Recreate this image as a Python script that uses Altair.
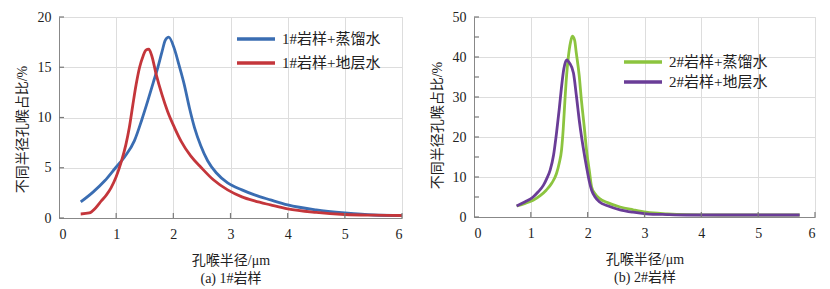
import altair as alt
import pandas as pd

# Panel (a): 1# sample
a_blue_x = [0.38, 0.6, 0.8, 0.99, 1.15, 1.32, 1.45, 1.55, 1.65, 1.73, 1.80, 1.86, 1.92, 2.02, 2.10, 2.19, 2.28, 2.37, 2.48, 2.60, 2.75, 2.95, 3.2, 3.42, 3.7, 4.0, 4.5, 5.0, 5.5, 6.0]
a_blue_y = [1.6, 2.6, 3.7, 5.0, 6.1, 7.7, 9.8, 11.6, 13.5, 15.0, 16.5, 17.7, 18.0, 16.8, 15.2, 13.3, 11.0, 9.0, 7.2, 5.7, 4.5, 3.5, 2.8, 2.3, 1.8, 1.3, 0.8, 0.5, 0.3, 0.25]
a_red_x = [0.38, 0.53, 0.64, 0.74, 0.83, 0.91, 1.00, 1.09, 1.17, 1.23, 1.29, 1.35, 1.41, 1.47, 1.52, 1.57, 1.62, 1.70, 1.80, 1.90, 2.02, 2.14, 2.30, 2.49, 2.70, 2.95, 3.2, 3.42, 3.7, 4.0, 4.5, 5.0, 5.5, 6.0]
a_red_y = [0.4, 0.5, 1.0, 1.7, 2.3, 3.0, 4.1, 5.6, 7.3, 9.0, 11.2, 13.3, 15.0, 16.1, 16.7, 16.8, 16.2, 14.3, 12.3, 10.6, 9.0, 7.6, 6.2, 5.0, 3.8, 2.8, 2.1, 1.7, 1.3, 0.9, 0.55, 0.35, 0.28, 0.25]

# Panel (b): 2# sample
b_green_x = [0.75, 0.9, 1.04, 1.17, 1.27, 1.37, 1.45, 1.50, 1.54, 1.57, 1.60, 1.63, 1.66, 1.70, 1.73, 1.77, 1.80, 1.85, 1.89, 1.94, 1.98, 2.03, 2.07, 2.13, 2.21, 2.35, 2.57, 2.80, 3.03, 3.4, 3.74, 4.3, 4.91, 5.73]
b_green_y = [2.75, 3.4, 4.2, 5.4, 6.7, 8.5, 10.8, 13.5, 16.7, 22.0, 29.2, 35.5, 40.0, 43.8, 45.2, 44.2, 41.0, 35.5, 29.2, 22.5, 16.7, 11.5, 7.5, 5.8, 4.6, 3.6, 2.5, 1.8, 1.2, 0.8, 0.6, 0.5, 0.5, 0.5]
b_purple_x = [0.75, 0.9, 1.04, 1.13, 1.22, 1.28, 1.34, 1.40, 1.45, 1.50, 1.54, 1.58, 1.63, 1.68, 1.75, 1.80, 1.86, 1.92, 1.98, 2.03, 2.07, 2.13, 2.21, 2.35, 2.57, 2.80, 3.03, 3.4, 3.74, 4.3, 4.91, 5.73]
b_purple_y = [2.75, 3.8, 5.0, 6.3, 7.9, 9.6, 11.7, 15.5, 20.8, 27.0, 32.5, 37.0, 39.3, 38.5, 36.0, 30.5, 23.3, 17.5, 12.5, 8.8, 6.7, 5.0, 3.75, 2.8, 1.8, 1.2, 0.8, 0.6, 0.5, 0.5, 0.5, 0.5]

a_series = ["1#岩样+蒸馏水", "1#岩样+地层水"]
b_series = ["2#岩样+蒸馏水", "2#岩样+地层水"]
a_colors = ["#3a6db2", "#c4363b"]
b_colors = ["#8cc43f", "#6a3d97"]

a_yticks = [0, 5, 10, 15, 20]
b_yticks = [0, 5, 10, 15, 20, 25, 30, 35, 40, 45, 50]
b_ylabels = [0, 10, 20, 30, 40, 50]
xticks = [0, 1, 2, 3, 4, 5, 6]

FONT = "'Liberation Serif', 'Times New Roman', 'Noto Sans CJK SC', serif"
AXIS_COLOR = "#7a7a7a"
TEXT_COLOR = "#222222"


def make_df(xs_list, ys_list, names):
    rows = []
    for xs, ys, n in zip(xs_list, ys_list, names):
        for i, (x, y) in enumerate(zip(xs, ys)):
            rows.append({"x": x, "y": y, "s": n, "o": i})
    return pd.DataFrame(rows)


def panel(df, names, colors, ymax, yticks, ylabels, caption, w, h, legx, legy, cliph, rowpad, ytitley):
    xscale = alt.Scale(domain=[0, 6], nice=False)
    yscale = alt.Scale(domain=[0, ymax], nice=False)
    xaxis = alt.Axis(values=xticks, format="d", ticks=False, labelPadding=9,
                     labelFont=FONT, labelFontSize=14, labelColor=TEXT_COLOR,
                     labelOverlap=False,
                     title=["孔喉半径/μm", caption], titlePadding=12,
                     titleFont=FONT, titleColor=TEXT_COLOR,
                     titleFontWeight="normal", titleFontSize=14,
                     titleLineHeight=18)
    yaxis = alt.Axis(values=ylabels, format="d", ticks=False, labelPadding=8,
                     labelFont=FONT, labelFontSize=14, labelColor=TEXT_COLOR,
                     labelOverlap=False,
                     title="不同半径孔喉占比/%", titlePadding=8, titleY=ytitley,
                     titleFont=FONT, titleColor=TEXT_COLOR,
                     titleFontWeight="normal", titleFontSize=14)
    lines = alt.Chart(df).mark_line(strokeWidth=2.8, interpolate="monotone").encode(
        x=alt.X("x:Q", scale=xscale, axis=xaxis),
        y=alt.Y("y:Q", scale=yscale, axis=yaxis),
        color=alt.Color("s:N", sort=names,
                        scale=alt.Scale(domain=names, range=colors),
                        legend=alt.Legend(title=None, orient="none", legendX=legx, legendY=legy,
                                          symbolType="stroke", symbolSize=1444,
                                          symbolStrokeWidth=3.5, labelFontSize=15,
                                          labelFont=FONT, labelColor=TEXT_COLOR,
                                          clipHeight=cliph, rowPadding=rowpad, labelOffset=5)),
        order="o:O",
    )
    ydf = pd.DataFrame({"t": yticks})
    ytk = alt.Chart(ydf).mark_rule(color=AXIS_COLOR, strokeWidth=1.2).encode(
        y=alt.Y("t:Q", scale=yscale, axis=yaxis), x=alt.value(0), x2=alt.value(5))
    xdf = pd.DataFrame({"t": xticks[1:]})
    xtk = alt.Chart(xdf).mark_rule(color=AXIS_COLOR, strokeWidth=1.2).encode(
        x=alt.X("t:Q", scale=xscale, axis=xaxis), y=alt.value(h), y2=alt.value(h - 5))
    return alt.layer(lines, ytk, xtk).properties(width=w, height=h)


dfa = make_df([a_blue_x, a_red_x], [a_blue_y, a_red_y], a_series)
dfb = make_df([b_green_x, b_purple_x], [b_green_y, b_purple_y], b_series)

pa = panel(dfa, a_series, a_colors, 20, a_yticks, a_yticks, "(a) 1#岩样", 343, 201, 176, 12, 20, 4, 112)
pb = panel(dfb, b_series, b_colors, 50, b_yticks, b_ylabels, "(b) 2#岩样", 341, 200, 148, 36, 18, 2, 108)

chart = alt.hconcat(pa, pb, spacing=20).resolve_scale(color="independent").configure_view(
    stroke=None
).configure_axis(
    grid=False, domainColor=AXIS_COLOR, domainWidth=1.5,
).configure(background="white", padding={"left": 6, "top": 1, "right": 0, "bottom": 0})

chart.save("out.html", embed_options={"renderer": "svg", "actions": False})
